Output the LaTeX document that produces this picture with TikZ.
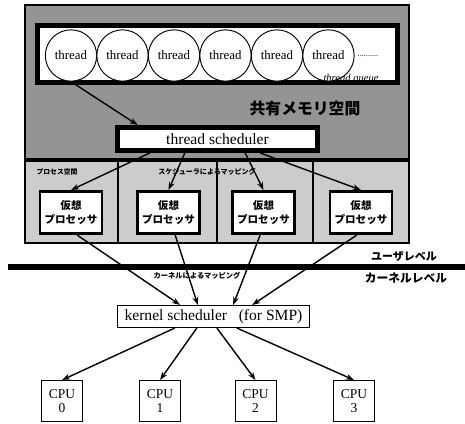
\documentclass[tikz,border=0pt]{standalone}
\usepackage{fontspec}
\setmainfont{Liberation Serif}
\newfontfamily\jp{Noto Sans CJK JP}
\usetikzlibrary{arrows.meta}

\begin{document}
\begin{tikzpicture}[x=0.03cm, y=-0.03cm,
        % Node styles
        thread/.style={draw, circle, line width=0.8pt, fill=white, minimum size=1.54cm, inner sep=0pt, font=\fontsize{11}{12}\selectfont},
        queuebox/.style={draw, line width=4.2pt, fill=white, minimum width=10.8cm, minimum height=1.71cm},
        tsched/.style={draw, line width=4.2pt, fill=white, minimum width=6cm, minimum height=0.69cm, font=\fontsize{13.3}{14}\selectfont},
        vproc/.style={draw, line width=2.5pt, fill=white, minimum width=1.86cm, minimum height=1.26cm, align=center, font=\jp\bfseries\fontsize{9}{12}\selectfont},
        ksched/.style={draw, line width=0.8pt, fill=white, minimum width=5.76cm, minimum height=0.62cm, font=\fontsize{13.3}{14}\selectfont},
        cpubox/.style={draw, line width=0.8pt, fill=white, minimum size=1.23cm, align=center, font=\fontsize{11.5}{12}\selectfont},
        jplabel/.style={font=\jp\bfseries\fontsize{#1}{#1}\selectfont, inner sep=1pt},
        arr/.style={-{Stealth[length=7pt, width=5pt]}, line width=1.2pt}
    ]
    \useasboundingbox (0,0) rectangle (465,424);

    % User space: shared memory (upper) and process spaces (lower)
    \fill[black!42] (25,5) rectangle (409,160);
    \fill[black!20] (25,160) rectangle (409,243);
    \draw[line width=1.8pt] (25,5) rectangle (409,243);
    \draw[line width=3pt] (25,160) -- (409,160);
    \draw[line width=1.5pt] (118,160) -- (118,243);
    \draw[line width=1.2pt] (217,160) -- (217,243);
    \draw[line width=1.8pt] (313,160) -- (313,243);

    % Thread queue
    \node[queuebox] (queue) at (217.5,54) {};
    \node[thread] (th1) at (71,55.5) {thread};
    \node[thread] (th2) at (122.5,55.5) {thread};
    \node[thread] (th3) at (174,55.5) {thread};
    \node[thread] (th4) at (225.5,55.5) {thread};
    \node[thread] (th5) at (277,55.5) {thread};
    \node[thread] (th6) at (328.5,55.5) {thread};
    \node[font=\fontsize{7}{8}\selectfont] (dots) at (368,56) {..........};
    \node[font=\itshape\fontsize{9}{10}\selectfont, inner sep=0.5pt] (qlabel) at (351,78.5) {thread queue};

    % Shared memory label
    \node[jplabel=13.5] (shmem) at (305,108) {共有メモリ空間};

    % Thread scheduler
    \node[tsched] (sched) at (217.5,139) {thread scheduler};

    % Process space labels
    \node[jplabel=5.8] (pspace) at (57,172) {プロセス空間};
    \node[jplabel=6] (smap) at (207,172) {スケジューラによるマッピング};

    % Virtual processors
    \node[vproc] (vp1) at (71,212.5) {仮想\\プロセッサ};
    \node[vproc] (vp2) at (168.5,212.5) {仮想\\プロセッサ};
    \node[vproc] (vp3) at (263.5,212.5) {仮想\\プロセッサ};
    \node[vproc] (vp4) at (361,212.5) {仮想\\プロセッサ};

    % User / kernel boundary
    \draw[line width=4.5pt] (8,267) -- (465,267);
    \node[jplabel=9.4] (ulevel) at (404,256) {ユーザレベル};
    \node[jplabel=10] (klevel) at (406,278) {カーネルレベル};
    \node[jplabel=6.2] (kmap) at (197,276) {カーネルによるマッピング};

    % Kernel scheduler and CPUs
    \node[ksched] (ks) at (213.5,316.5) {kernel scheduler \ \ (for SMP)};
    \node[cpubox] (cpu0) at (62,401) {CPU\\0};
    \node[cpubox] (cpu1) at (160,401) {CPU\\1};
    \node[cpubox] (cpu2) at (255.5,401) {CPU\\2};
    \node[cpubox] (cpu3) at (354,401) {CPU\\3};

    % Thread -> thread scheduler
    \draw[arr] (th1.south) -- ([xshift=0.68cm]sched.north west);

    % Thread scheduler -> virtual processors
    \draw[arr] ([xshift=-2.03cm]sched.south) -- (vp1.north);
    \draw[arr] ([xshift=-0.98cm]sched.south) -- (vp2.north);
    \draw[arr] ([xshift=0.83cm]sched.south) -- (vp3.north);
    \draw[arr] ([xshift=1.28cm]sched.south) -- (vp4.north);

    % Virtual processors -> kernel scheduler
    \draw[arr] ([xshift=0.18cm]vp1.south) -- ([xshift=-1cm]ks.north);
    \draw[arr] ([xshift=0.2cm]vp2.south) -- ([xshift=-0.47cm]ks.north);
    \draw[arr] ([xshift=-0.1cm]vp3.south) -- ([xshift=0.59cm]ks.north);
    \draw[arr] ([xshift=-0.12cm]vp4.south) -- ([xshift=1.16cm]ks.north);

    % Kernel scheduler -> CPUs
    \draw[arr] ([xshift=-1.16cm]ks.south) -- (cpu0.north);
    \draw[arr] ([xshift=-0.5cm]ks.south) -- (cpu1.north);
    \draw[arr] ([xshift=0.1cm]ks.south) -- (cpu2.north);
    \draw[arr] ([xshift=0.7cm]ks.south) -- (cpu3.north);

    \end{tikzpicture}
\end{document}
